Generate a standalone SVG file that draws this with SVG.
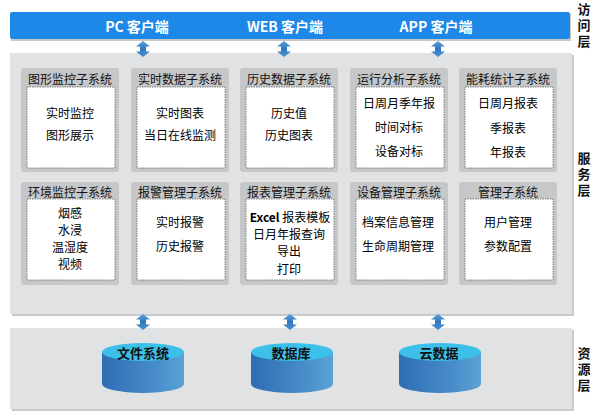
<svg xmlns="http://www.w3.org/2000/svg" width="594" height="418" viewBox="0 0 594 418">
<defs>
<linearGradient id="cyl" x1="0" y1="0" x2="1" y2="0">
<stop offset="0" stop-color="#2e6db3"/>
<stop offset="0.7" stop-color="#4a8fcb"/>
<stop offset="1" stop-color="#5ba3d4"/>
</linearGradient>
<linearGradient id="arr" x1="0" y1="0" x2="0" y2="1">
<stop offset="0" stop-color="#5aa0d8"/>
<stop offset="0.5" stop-color="#2f78bd"/>
<stop offset="1" stop-color="#4a92cf"/>
</linearGradient>
<path id="dbl" d="M0,-8 L7,-2.5 L3,-2.5 L3,2.5 L7,2.5 L0,8 L-7,2.5 L-3,2.5 L-3,-2.5 L-7,-2.5 Z" fill="url(#arr)"/>
</defs>
<style>
text{font-family:"Noto Sans CJK SC","Microsoft YaHei",sans-serif;text-anchor:middle;dominant-baseline:central}
.bar{font-size:14px;font-weight:bold;fill:#fff}
.lay{font-size:13px;font-weight:bold;fill:#111;writing-mode:vertical-rl;letter-spacing:3px}
.ttl{font-size:12px;fill:#111}
.itm{font-size:12px;fill:#000}
.card{fill:#c6c7c9}
.inner{fill:#fff;stroke:#666;stroke-width:0.8;stroke-dasharray:1.5 1}
.cylname{font-size:13px;font-weight:bold;fill:#111}
</style>
<rect width="594" height="418" fill="#fff"/>

<!-- access layer -->
<g id="access">
<rect x="11" y="14" width="560" height="27" fill="#c8c8c8"/>
<rect x="10" y="12" width="560" height="27" rx="2" fill="#1e88e8"/>
<text class="bar" x="137" y="26">PC 客户端</text>
<text class="bar" x="285" y="26">WEB 客户端</text>
<text class="bar" x="436" y="26">APP 客户端</text>
</g>
<g id="label-access">
<text class="lay" x="584" y="27">访问层</text>
</g>

<!-- service layer panel -->
<g id="service">
<rect x="12" y="55" width="562" height="261" fill="#c9cacc"/>
<rect x="10" y="53" width="562" height="261" fill="#e1e2e4"/>
</g>
<g id="label-service">
<text class="lay" x="584" y="176">服务层</text>
</g>

<!-- resource layer panel -->
<g id="resource">
<rect x="12" y="330" width="562" height="81" fill="#c9cacc"/>
<rect x="10" y="328" width="562" height="81" fill="#e1e2e4"/>
</g>
<g id="label-resource">
<text class="lay" x="584" y="371">资源层</text>
</g>

<!-- row 1 cards -->
<g id="card-tuxing">
<rect class="card" x="21" y="68" width="98" height="104" rx="3"/>
<text class="ttl" x="70" y="78">图形监控子系统</text>
<rect class="inner" x="27" y="87" width="88" height="81"/>
<text class="itm" x="70" y="112">实时监控</text>
<text class="itm" x="70" y="134">图形展示</text>
</g>
<g id="card-shishi">
<rect class="card" x="131" y="68" width="98" height="104" rx="3"/>
<text class="ttl" x="180" y="78">实时数据子系统</text>
<rect class="inner" x="137" y="87" width="88" height="81"/>
<text class="itm" x="180" y="112">实时图表</text>
<text class="itm" x="180" y="134">当日在线监测</text>
</g>
<g id="card-lishi">
<rect class="card" x="240" y="68" width="98" height="104" rx="3"/>
<text class="ttl" x="289" y="78">历史数据子系统</text>
<rect class="inner" x="246" y="87" width="88" height="81"/>
<text class="itm" x="289" y="112">历史值</text>
<text class="itm" x="289" y="134">历史图表</text>
</g>
<g id="card-yunxing">
<rect class="card" x="350" y="68" width="98" height="104" rx="3"/>
<text class="ttl" x="399" y="78">运行分析子系统</text>
<rect class="inner" x="356" y="87" width="88" height="81"/>
<text class="itm" x="399" y="102">日周月季年报</text>
<text class="itm" x="399" y="126">时间对标</text>
<text class="itm" x="399" y="150">设备对标</text>
</g>
<g id="card-nenghao">
<rect class="card" x="459" y="68" width="98" height="104" rx="3"/>
<text class="ttl" x="508" y="78">能耗统计子系统</text>
<rect class="inner" x="465" y="87" width="88" height="81"/>
<text class="itm" x="508" y="102">日周月报表</text>
<text class="itm" x="508" y="127">季报表</text>
<text class="itm" x="508" y="151">年报表</text>
</g>

<!-- row 2 cards -->
<g id="card-huanjing">
<rect class="card" x="21" y="182" width="98" height="103" rx="3"/>
<text class="ttl" x="70" y="191">环境监控子系统</text>
<rect class="inner" x="27" y="199" width="88" height="81"/>
<text class="itm" x="70" y="212">烟感</text>
<text class="itm" x="70" y="229">水浸</text>
<text class="itm" x="70" y="246">温湿度</text>
<text class="itm" x="70" y="263">视频</text>
</g>
<g id="card-baojing">
<rect class="card" x="131" y="182" width="98" height="103" rx="3"/>
<text class="ttl" x="180" y="191">报警管理子系统</text>
<rect class="inner" x="137" y="199" width="88" height="81"/>
<text class="itm" x="180" y="221">实时报警</text>
<text class="itm" x="180" y="245">历史报警</text>
</g>
<g id="card-baobiao">
<rect class="card" x="240" y="182" width="98" height="103" rx="3"/>
<text class="ttl" x="289" y="191">报表管理子系统</text>
<rect class="inner" x="246" y="199" width="88" height="81"/>
<text class="itm" x="290" y="216"><tspan font-weight="bold">Excel</tspan> 报表模板</text>
<text class="itm" x="289" y="233">日月年报查询</text>
<text class="itm" x="289" y="250">导出</text>
<text class="itm" x="289" y="268">打印</text>
</g>
<g id="card-shebei">
<rect class="card" x="350" y="182" width="98" height="103" rx="3"/>
<text class="ttl" x="399" y="191">设备管理子系统</text>
<rect class="inner" x="356" y="199" width="88" height="81"/>
<text class="itm" x="398" y="221">档案信息管理</text>
<text class="itm" x="398" y="245">生命周期管理</text>
</g>
<g id="card-guanli">
<rect class="card" x="459" y="182" width="98" height="103" rx="3"/>
<text class="ttl" x="508" y="191">管理子系统</text>
<rect class="inner" x="465" y="199" width="88" height="81"/>
<text class="itm" x="508" y="221">用户管理</text>
<text class="itm" x="508" y="245">参数配置</text>
</g>

<!-- cylinders -->
<g id="db-file">
<path d="M102,352 L102,384 A41,9 0 0 0 184,384 L184,352 Z" fill="url(#cyl)"/>
<ellipse cx="143" cy="352" rx="41" ry="9" fill="#3cc0ea"/>
<text class="cylname" x="143" y="352">文件系统</text>
</g>
<g id="db-database">
<path d="M251,352 L251,384 A41,9 0 0 0 333,384 L333,352 Z" fill="url(#cyl)"/>
<ellipse cx="292" cy="352" rx="41" ry="9" fill="#3cc0ea"/>
<text class="cylname" x="291" y="352">数据库</text>
</g>
<g id="db-cloud">
<path d="M399,352 L399,384 A41,9 0 0 0 481,384 L481,352 Z" fill="url(#cyl)"/>
<ellipse cx="440" cy="352" rx="41" ry="9" fill="#3cc0ea"/>
<text class="cylname" x="439" y="352">云数据</text>
</g>

<!-- connectors -->
<g id="connectors">
<use href="#dbl" x="143" y="49"/>
<use href="#dbl" x="284" y="49"/>
<use href="#dbl" x="438" y="49"/>
<use href="#dbl" x="143" y="322"/>
<use href="#dbl" x="290" y="322"/>
<use href="#dbl" x="438" y="322"/>
</g>
</svg>
